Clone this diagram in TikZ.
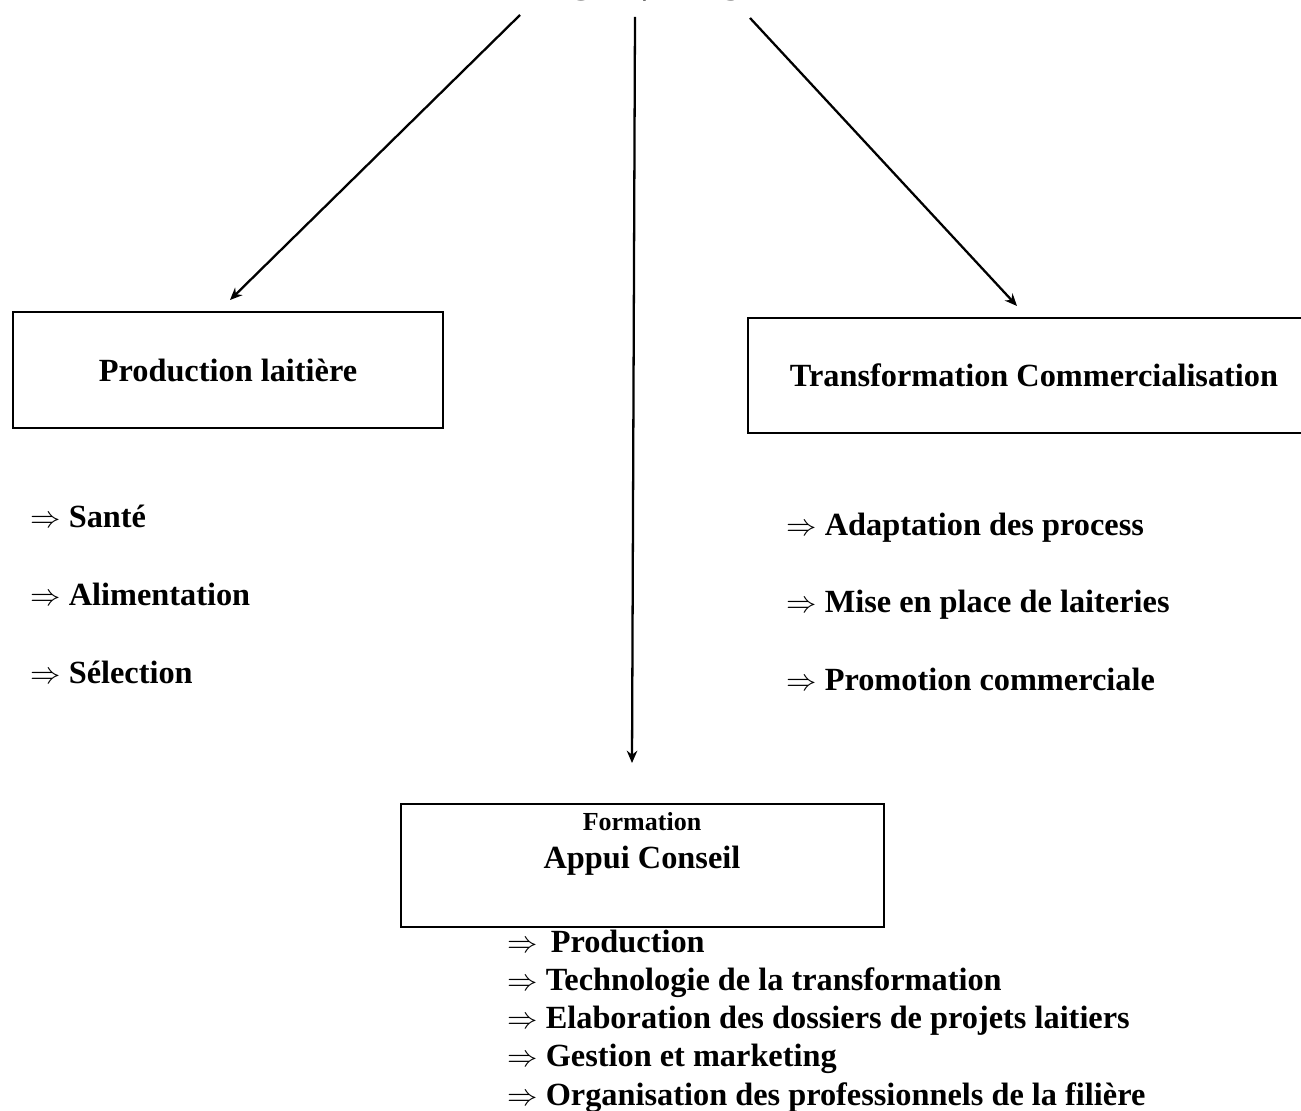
\documentclass[tikz,border=0pt]{standalone}
\usepackage{fontspec}
\setmainfont{Liberation Serif}
\usetikzlibrary{arrows.meta}
\begin{document}
\begin{tikzpicture}[x=0.02cm, y=-0.02cm,
  font=\bfseries\fontsize{18.4}{22}\selectfont,
  cadre/.style={draw, line width=1pt, inner sep=0pt, align=center},
  puce/.style={anchor=base west, inner sep=0pt},
  fl/.style={-{Stealth[length=7pt, width=6pt]}, line width=1.3pt}
]
  \useasboundingbox (0,0) rectangle (1301,1111);
  \node[anchor=base, font=\bfseries\fontsize{21}{25}\selectfont] (titre) at (641,1) {ACTIVITES};

  \node[cadre, minimum width=8.6cm, minimum height=2.32cm] (prod) at (228,370) {Production laitière};
  \node[cadre, minimum width=11.44cm, minimum height=2.3cm] (transf) at (1034,375.5) {Transformation Commercialisation};
  \node[cadre, minimum width=9.66cm, minimum height=2.46cm] (form) at (642.5,865.5) {};
  \node[anchor=base, font=\bfseries\fontsize{14.8}{18}\selectfont] (formtit) at (642,830) {Formation};
  \node[anchor=base] (appui) at (642,868) {Appui Conseil};

  % fleches depuis le titre
  \coordinate (dG) at (520,15);  \coordinate (fG) at (230,300);
  \coordinate (dM) at (635,17);  \coordinate (fM) at (632,763);
  \coordinate (dD) at (750,18);  \coordinate (fD) at (1017,306);
  \draw[fl] (dG) -- (fG);
  \draw[fl] (dM) -- (fM);
  \draw[fl] (dD) -- (fD);

  % listes
  \foreach \t [count=\i from 0] in {Santé, Alimentation, Sélection}
    \node[puce] (pl\i) at (30,{527+78*\i}) {$\Rightarrow$ \t};
  \foreach \t [count=\i from 0] in {Adaptation des process, Mise en place de laiteries, Promotion commerciale}
    \node[puce] (tc\i) at (786,{535+77.5*\i}) {$\Rightarrow$ \t};
  \foreach \t [count=\i from 0] in {\hspace{0.1cm}Production, Technologie de la transformation,
      Elaboration des dossiers de projets laitiers, Gestion et marketing,
      Organisation des professionnels de la filière}
    \node[puce] (ac\i) at (507,{952+38.25*\i}) {$\Rightarrow$ \t};
\end{tikzpicture}
\end{document}
